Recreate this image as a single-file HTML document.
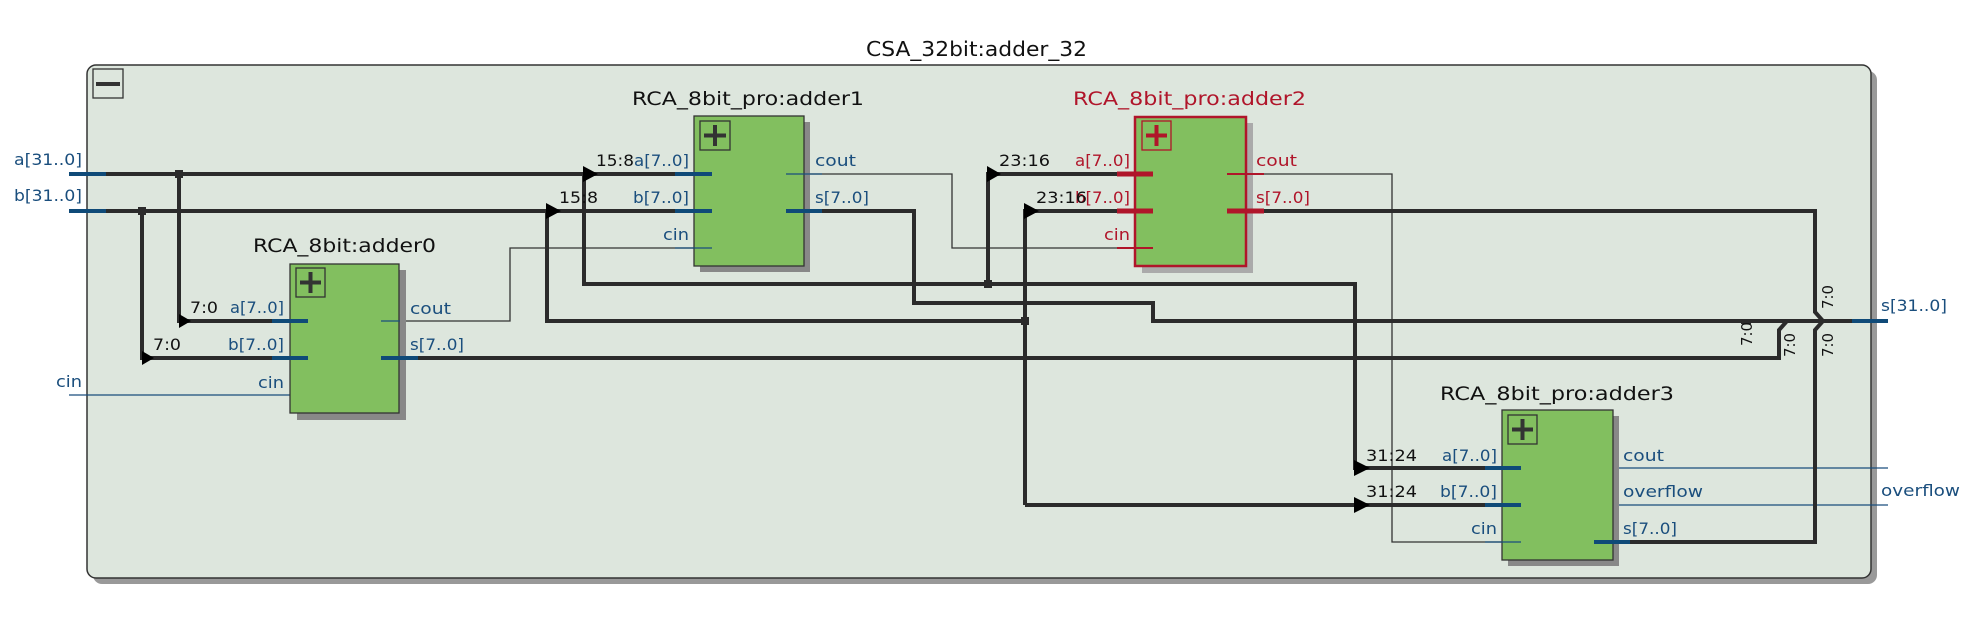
<!DOCTYPE html>
<html><head><meta charset="utf-8"><style>
html,body{margin:0;padding:0;background:#fff;}
svg{display:block;}
text{font-family:"DejaVu Sans","Liberation Sans",sans-serif;}
</style></head><body>
<svg width="1988" height="630" viewBox="0 0 1988 630" xmlns="http://www.w3.org/2000/svg">
<text x="866" y="56" font-size="20" fill="#111" textLength="221" lengthAdjust="spacingAndGlyphs">CSA_32bit:adder_32</text>
<rect x="93" y="71" width="1784" height="513" rx="9" fill="#999"/>
<rect x="87" y="65" width="1784" height="513" rx="9" fill="#dde6dd" stroke="#333" stroke-width="1.5"/>
<rect x="93" y="69" width="30" height="29" fill="none" stroke="#333" stroke-width="1.3"/>
<rect x="96" y="82" width="24" height="4" fill="#333"/>

<g fill="none" stroke="#333" stroke-width="1.3">
<polyline points="381,321 510,321 510,248 712,248"/>
<polyline points="786,174 952,174 952,248 1153,248"/>
<polyline points="1264,174 1392,174 1392,542 1521,542"/>
</g>
<g fill="none" stroke="#1a4e7d" stroke-width="1.3">
<line x1="69" y1="395" x2="309" y2="395"/>
<line x1="1594" y1="468" x2="1888" y2="468"/>
<line x1="1594" y1="505" x2="1888" y2="505"/>
</g>

<g fill="none" stroke="#2b2b2b" stroke-width="4">
<line x1="105" y1="174" x2="676" y2="174"/>
<line x1="105" y1="211" x2="676" y2="211"/>
<polyline points="179,174 179,321 272,321"/>
<polyline points="142,211 142,358 272,358"/>
<polyline points="584,174 584,284 1355,284 1355,468 1485,468"/>
<polyline points="547,211 547,321 1025,321"/>
<polyline points="988,284 988,174 1117,174"/>
<polyline points="1025,505 1025,211 1117,211"/>
<line x1="1025" y1="505" x2="1485" y2="505"/>
<polyline points="822,211 914,211 914,303 1153,303 1153,321 1852,321"/>
<polyline points="418,358 1779,358 1779,330 1787,321"/>
<polyline points="1264,211 1815,211 1815,312 1823,321 1815,330 1815,542 1630,542"/>
</g>
<rect x="175" y="170" width="8" height="8" fill="#2b2b2b"/>
<rect x="138" y="207" width="8" height="8" fill="#2b2b2b"/>
<rect x="984" y="280" width="8" height="8" fill="#2b2b2b"/>
<rect x="1021" y="317" width="8" height="8" fill="#2b2b2b"/>
<rect x="1741" y="319" width="10" height="5" fill="#2b2b2b"/>

<g fill="#000">
<polygon points="179,314 191,321 179,328"/>
<polygon points="142,351 154,358 142,365"/>
<polygon points="583,166 598,174 583,182"/>
<polygon points="546,203 561,211 546,219"/>
<polygon points="987,166 1001,174 987,182"/>
<polygon points="1024,203 1039,211 1024,219"/>
<polygon points="1354,460 1370,468 1354,476"/>
<polygon points="1354,497 1370,505 1354,513"/>
</g>

<g stroke="#0f4a78" stroke-width="4">
<line x1="69" y1="174" x2="106" y2="174"/>
<line x1="69" y1="211" x2="106" y2="211"/>
<line x1="1852" y1="321" x2="1888" y2="321"/>
</g>

<rect x="297" y="270" width="109" height="150" fill="#888"/>
<rect x="290" y="264" width="109" height="149" fill="#82bf5f" stroke="#333" stroke-width="1.3"/>
<rect x="296" y="268" width="29" height="29" fill="none" stroke="#333" stroke-width="1.3"/>
<path d="M310.5 272v21M300 282.5h21" stroke="#333" stroke-width="4"/>
<g stroke="#0f4a78" stroke-width="4"><line x1="272" y1="321" x2="308" y2="321"/><line x1="272" y1="358" x2="308" y2="358"/><line x1="381" y1="358" x2="418" y2="358"/></g>
<g stroke="#1a4e7d" stroke-width="1.3"><line x1="381" y1="321" x2="400" y2="321"/></g>
<text x="253" y="252" font-size="19" fill="#111" textLength="183" lengthAdjust="spacingAndGlyphs">RCA_8bit:adder0</text>

<rect x="700" y="122" width="110" height="150" fill="#888"/>
<rect x="694" y="116" width="110" height="150" fill="#82bf5f" stroke="#333" stroke-width="1.3"/>
<rect x="700" y="121" width="30" height="29" fill="none" stroke="#333" stroke-width="1.3"/>
<path d="M715 125v21M704 135.5h22" stroke="#333" stroke-width="4"/>
<g stroke="#0f4a78" stroke-width="4"><line x1="675" y1="174" x2="712" y2="174"/><line x1="675" y1="211" x2="712" y2="211"/><line x1="786" y1="211" x2="822" y2="211"/></g>
<g stroke="#1a4e7d" stroke-width="1.3"><line x1="675" y1="248" x2="712" y2="248"/><line x1="786" y1="174" x2="822" y2="174"/></g>
<text x="632" y="105" font-size="19" fill="#111" textLength="232" lengthAdjust="spacingAndGlyphs">RCA_8bit_pro:adder1</text>

<rect x="1142" y="123" width="111" height="150" fill="#aaa"/>
<rect x="1135" y="117" width="111" height="149" fill="#82bf5f" stroke="#b0152a" stroke-width="2.5"/>
<rect x="1142" y="121" width="29" height="29" fill="none" stroke="#b0152a" stroke-width="1.3"/>
<path d="M1156.5 125v21M1146 135.5h21" stroke="#b0152a" stroke-width="4"/>
<g stroke="#b0152a" stroke-width="5"><line x1="1117" y1="174" x2="1153" y2="174"/><line x1="1117" y1="211" x2="1153" y2="211"/><line x1="1227" y1="211" x2="1264" y2="211"/></g>
<g stroke="#b0152a" stroke-width="2"><line x1="1117" y1="248" x2="1153" y2="248"/><line x1="1227" y1="174" x2="1264" y2="174"/></g>
<text x="1073" y="105" font-size="19" fill="#b0152a" textLength="233" lengthAdjust="spacingAndGlyphs">RCA_8bit_pro:adder2</text>

<rect x="1508" y="416" width="111" height="150" fill="#888"/>
<rect x="1502" y="410" width="111" height="150" fill="#82bf5f" stroke="#333" stroke-width="1.3"/>
<rect x="1508" y="415" width="29" height="29" fill="none" stroke="#333" stroke-width="1.3"/>
<path d="M1522.5 419v21M1512 429.5h21" stroke="#333" stroke-width="4"/>
<g stroke="#0f4a78" stroke-width="4"><line x1="1485" y1="468" x2="1521" y2="468"/><line x1="1485" y1="505" x2="1521" y2="505"/><line x1="1594" y1="542" x2="1630" y2="542"/></g>
<g stroke="#1a4e7d" stroke-width="1.3"><line x1="1485" y1="542" x2="1521" y2="542"/></g>
<text x="1440" y="400" font-size="19" fill="#111" textLength="234" lengthAdjust="spacingAndGlyphs">RCA_8bit_pro:adder3</text>

<g font-size="16" fill="#1a4e7d">
<text x="14" y="165" textLength="68" lengthAdjust="spacingAndGlyphs">a[31..0]</text>
<text x="14" y="201" textLength="68" lengthAdjust="spacingAndGlyphs">b[31..0]</text>
<text x="56" y="387" textLength="26" lengthAdjust="spacingAndGlyphs">cin</text>
<text x="230" y="313" textLength="54" lengthAdjust="spacingAndGlyphs">a[7..0]</text>
<text x="228" y="350" textLength="56" lengthAdjust="spacingAndGlyphs">b[7..0]</text>
<text x="258" y="388" textLength="26" lengthAdjust="spacingAndGlyphs">cin</text>
<text x="410" y="314" textLength="41" lengthAdjust="spacingAndGlyphs">cout</text>
<text x="410" y="350" textLength="54" lengthAdjust="spacingAndGlyphs">s[7..0]</text>
<text x="634" y="166" textLength="55" lengthAdjust="spacingAndGlyphs">a[7..0]</text>
<text x="633" y="203" textLength="56" lengthAdjust="spacingAndGlyphs">b[7..0]</text>
<text x="663" y="240" textLength="26" lengthAdjust="spacingAndGlyphs">cin</text>
<text x="815" y="166" textLength="41" lengthAdjust="spacingAndGlyphs">cout</text>
<text x="815" y="203" textLength="54" lengthAdjust="spacingAndGlyphs">s[7..0]</text>
<text x="1442" y="461" textLength="55" lengthAdjust="spacingAndGlyphs">a[7..0]</text>
<text x="1440" y="497" textLength="57" lengthAdjust="spacingAndGlyphs">b[7..0]</text>
<text x="1471" y="534" textLength="26" lengthAdjust="spacingAndGlyphs">cin</text>
<text x="1623" y="461" textLength="41" lengthAdjust="spacingAndGlyphs">cout</text>
<text x="1623" y="497" textLength="80" lengthAdjust="spacingAndGlyphs">overflow</text>
<text x="1623" y="534" textLength="54" lengthAdjust="spacingAndGlyphs">s[7..0]</text>
<text x="1881" y="311" textLength="66" lengthAdjust="spacingAndGlyphs">s[31..0]</text>
<text x="1881" y="496" textLength="79" lengthAdjust="spacingAndGlyphs">overflow</text>
</g>
<g font-size="16" fill="#b0152a">
<text x="1075" y="166" textLength="55" lengthAdjust="spacingAndGlyphs">a[7..0]</text>
<text x="1075" y="203" textLength="55" lengthAdjust="spacingAndGlyphs">b[7..0]</text>
<text x="1104" y="240" textLength="26" lengthAdjust="spacingAndGlyphs">cin</text>
<text x="1256" y="166" textLength="41" lengthAdjust="spacingAndGlyphs">cout</text>
<text x="1256" y="203" textLength="54" lengthAdjust="spacingAndGlyphs">s[7..0]</text>
</g>
<g font-size="16" fill="#111">
<text x="190" y="313" textLength="28" lengthAdjust="spacingAndGlyphs">7:0</text>
<text x="153" y="350" textLength="28" lengthAdjust="spacingAndGlyphs">7:0</text>
<text x="596" y="166" textLength="38" lengthAdjust="spacingAndGlyphs">15:8</text>
<text x="559" y="203" textLength="39" lengthAdjust="spacingAndGlyphs">15:8</text>
<text x="999" y="166" textLength="51" lengthAdjust="spacingAndGlyphs">23:16</text>
<text x="1036" y="203" textLength="51" lengthAdjust="spacingAndGlyphs">23:16</text>
<text x="1366" y="461" textLength="51" lengthAdjust="spacingAndGlyphs">31:24</text>
<text x="1366" y="497" textLength="51" lengthAdjust="spacingAndGlyphs">31:24</text>
</g>
<g font-size="15" fill="#111">
<text transform="translate(1752,346) rotate(-90)" textLength="24" lengthAdjust="spacingAndGlyphs">7:0</text>
<text transform="translate(1795,357) rotate(-90)" textLength="24" lengthAdjust="spacingAndGlyphs">7:0</text>
<text transform="translate(1833,309) rotate(-90)" textLength="24" lengthAdjust="spacingAndGlyphs">7:0</text>
<text transform="translate(1833,357) rotate(-90)" textLength="24" lengthAdjust="spacingAndGlyphs">7:0</text>
</g>
</svg>
</body></html>
